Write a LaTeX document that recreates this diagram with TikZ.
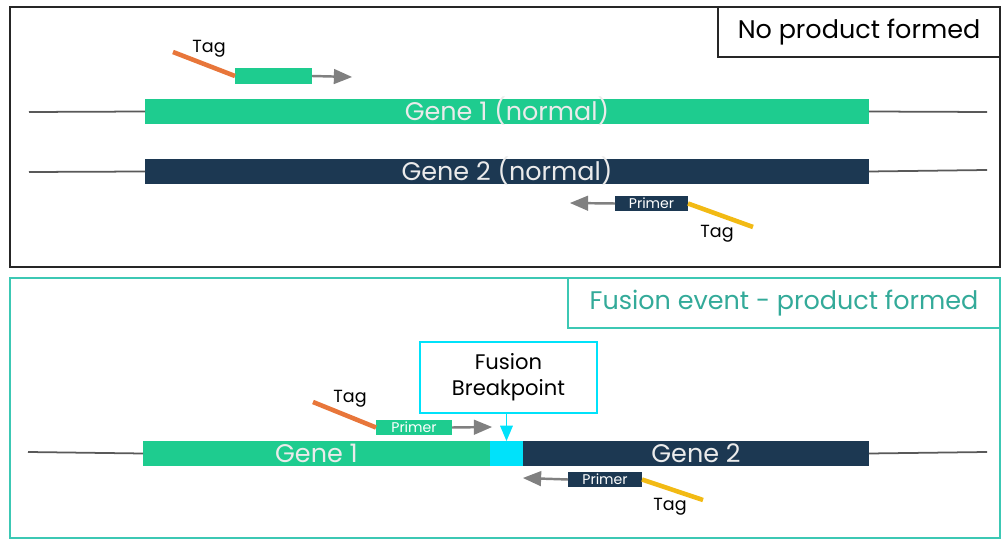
\documentclass[tikz,border=0pt]{standalone}
\usepackage{fontspec}
\setmainfont{Poppins}
\usepackage{tikz}
\usetikzlibrary{arrows}

\definecolor{genegreen}{RGB}{30,204,143}
\definecolor{genenavy}{RGB}{28,56,82}
\definecolor{tagorange}{RGB}{232,118,58}
\definecolor{tagyellow}{RGB}{242,186,20}
\definecolor{bpcyan}{RGB}{0,226,250}
\definecolor{panelteal}{RGB}{60,200,180}
\definecolor{arrowgray}{RGB}{128,128,128}

\begin{document}
\begin{tikzpicture}[x=0.02cm,y=-0.02cm,
					every node/.style = {inner sep=0pt, outer sep=0pt}]

\tikzstyle{gene}=[rectangle, minimum height=0.5cm, text height=11.5pt, text depth=1.5pt,
	text=white!92!black, font=\fontsize{14.5}{14.5}\selectfont]
\tikzstyle{primer}=[rectangle, minimum height=0.31cm, text height=6.5pt, text depth=1pt,
	text=white, font=\fontsize{8}{8}\selectfont]
\tikzstyle{flank}=[draw=black!65, line width=1pt]
\tikzstyle{tag}=[line width=2.6pt]
\tikzstyle{extend}=[draw=arrowgray, line width=1.4pt, -triangle 45]
\tikzstyle{tagtext}=[font=\fontsize{10}{10}\selectfont]
\tikzstyle{caption}=[rectangle, anchor=north east, minimum height=1cm, font=\fontsize{14.5}{14.5}\selectfont]

\useasboundingbox (0,0) rectangle (1001,540);

% top panel: no product
\draw[black!85, line width=0.8pt] (10,7) rectangle (1000,267);
\node[caption, draw=black!85, line width=0.8pt, minimum width=5.64cm] (noprod) at (1000,7) {No product formed};

\node[gene, fill=genegreen] (geneA) at (507,111.5) [minimum width=14.48cm] {Gene 1 (normal)};
\node[gene, fill=genenavy] (geneB) at (507,171.5) [minimum width=14.48cm] {Gene 2 (normal)};
\draw[flank] (29,112) -- (geneA.west);
\draw[flank] (geneA.east) -- (987,112);
\draw[flank] (29,172) -- (geneB.west);
\draw[flank] (geneB.east) -- (987,170);

\node[primer, fill=genegreen, minimum width=1.54cm] (fwdA) at (273.5,76) {};
\draw[tag, tagorange] (173,52) -- (fwdA.west);
\draw[extend] (fwdA.east) -- (352,77);
\node[tagtext] (tagA) at (209,49) {Tag};

\node[primer, fill=genenavy, minimum width=1.46cm] (revA) at (651.5,203.5) {Primer};
\draw[tag, tagyellow] (revA.east) -- (753,227);
\draw[extend] (revA.west) -- (570,203);
\node[tagtext] (tagB) at (717,234) {Tag};

% bottom panel: fusion
\draw[panelteal, line width=0.8pt] (10,278) rectangle (1000,538);
\node[caption, draw=panelteal, line width=0.8pt, minimum width=8.64cm, text=panelteal!85!black] (fusprod) at (1000,278) {Fusion event - product formed};

\node[gene, fill=genegreen, minimum width=6.94cm] (geneC) at (316.5,453.5) {Gene 1};
\node[gene, fill=bpcyan, minimum width=0.66cm] (bp) at (506.5,453.5) {};
\node[gene, fill=genenavy, minimum width=6.92cm] (geneD) at (696,453.5) {Gene 2};
\draw[flank] (28,452) -- (geneC.west);
\draw[flank] (geneD.east) -- (987,452);

\node[rectangle, draw=bpcyan, line width=0.8pt, minimum width=3.54cm, minimum height=1.42cm,
	align=center, font=\fontsize{12}{15}\selectfont] (fusbox) at (508.5,377.5) {Fusion\\Breakpoint};
\draw[bpcyan, line width=1pt, -triangle 45] (bp.north |- fusbox.south) -- (bp.north);

\node[primer, fill=genegreen, minimum width=1.52cm] (fwdB) at (414,427.5) {Primer};
\draw[tag, tagorange] (313,402) -- (fwdB.west);
\draw[extend] (fwdB.east) -- (492,427);
\node[tagtext] (tagC) at (350,399) {Tag};

\node[primer, fill=genenavy, minimum width=1.48cm] (revB) at (605,479.5) {Primer};
\draw[tag, tagyellow] (revB.east) -- (703,500);
\draw[extend] (revB.west) -- (523,478);
\node[tagtext] (tagD) at (670,507) {Tag};
\end{tikzpicture}
\end{document}
